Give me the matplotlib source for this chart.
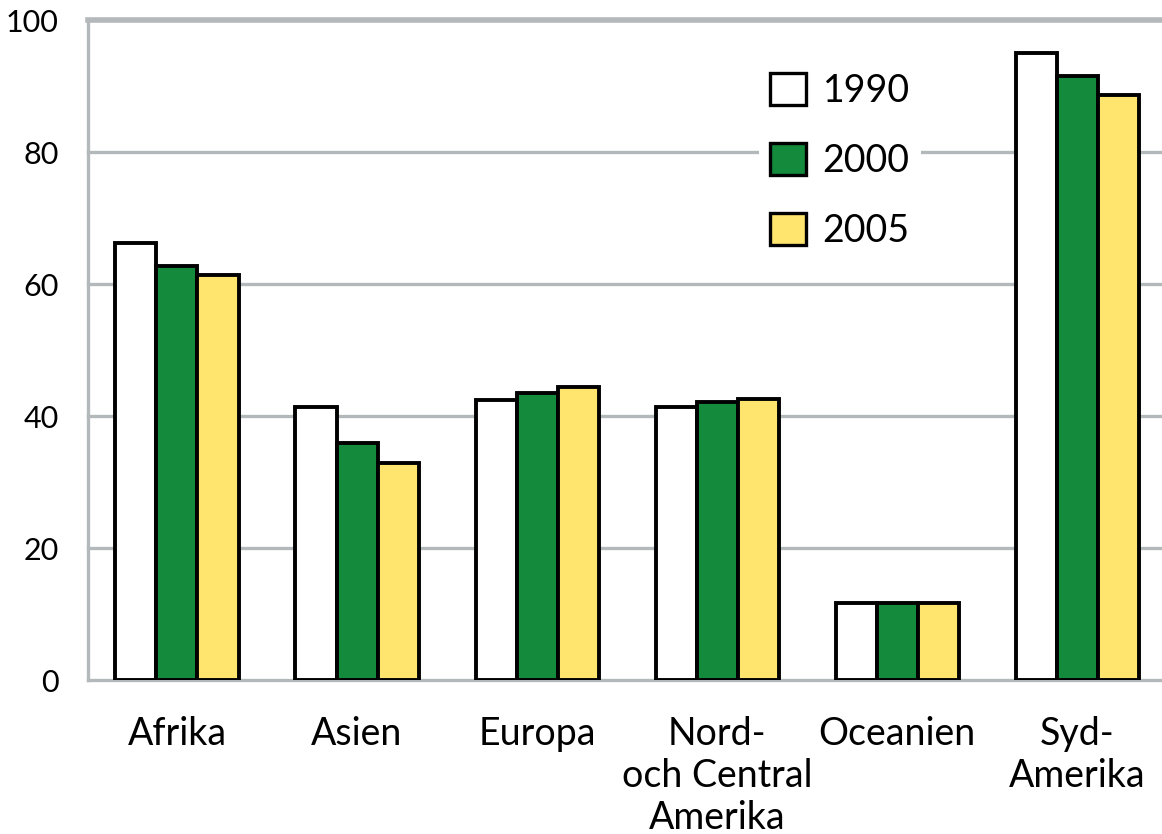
import matplotlib
matplotlib.use("Agg")
import matplotlib.pyplot as plt
import numpy as np

categories = ["Afrika", "Asien", "Europa", "Nord-\noch Central\nAmerika", "Oceanien", "Syd-\nAmerika"]
years = ["1990", "2000", "2005"]
v1990 = [66.2, 41.4, 42.4, 41.4, 11.7, 95.0]
v2000 = [62.7, 35.9, 43.5, 42.1, 11.7, 91.5]
v2005 = [61.4, 32.9, 44.4, 42.6, 11.7, 88.6]
yticks = [0, 20, 40, 60, 80, 100]

colors = ["#ffffff", "#138a3c", "#ffe46e"]
grid_c = "#b3b8bb"

plt.rcParams['font.family'] = ['Lato', 'DejaVu Sans']

fig = plt.figure(figsize=(11.62, 8.34), dpi=100)
ax = fig.add_axes([88/1162, 1-680/834, 1-88/1162, (680-20)/834])

x = np.arange(len(categories))
w = 0.228
for i, (vals, c, lab) in enumerate(zip([v1990, v2000, v2005], colors, years)):
    ax.bar(x + (i-1)*w, vals, width=w, color=c, edgecolor="black", linewidth=2.8, label=lab, zorder=3)

ax.set_xlim(-0.494, 5.47)
ax.set_ylim(0, 100)
ax.set_yticks(yticks)
ax.set_yticklabels([str(t) for t in yticks], fontsize=22)
ax.set_xticks(x)
ax.set_xticklabels(categories, fontsize=27, linespacing=1.2, va="top")
ax.tick_params(axis="y", length=0, pad=21)
ax.tick_params(axis="x", length=0, pad=26)

for t in yticks[1:]:
    ax.axhline(t, color=grid_c, linewidth=2.4 if t < 100 else 4, zorder=1, clip_on=False)

for s in ["top", "right"]:
    ax.spines[s].set_visible(False)
ax.spines["left"].set_color(grid_c)
ax.spines["left"].set_linewidth(2.4)
ax.spines["bottom"].set_color(grid_c)
ax.spines["bottom"].set_linewidth(2.4)

leg = ax.legend(loc="upper left", bbox_to_anchor=(740/1162, 1-43/834), bbox_transform=fig.transFigure,
                fontsize=27, frameon=True, fancybox=False, handlelength=0.95, handleheight=0.95,
                handletextpad=0.45, labelspacing=0.9, borderpad=0.3)
leg.get_frame().set_facecolor("white")
leg.get_frame().set_edgecolor("none")
leg.get_frame().set_alpha(1)
leg.set_zorder(5)
for h in leg.legend_handles:
    h.set_linewidth(2.4)

fig.savefig("out.png", dpi=100)
